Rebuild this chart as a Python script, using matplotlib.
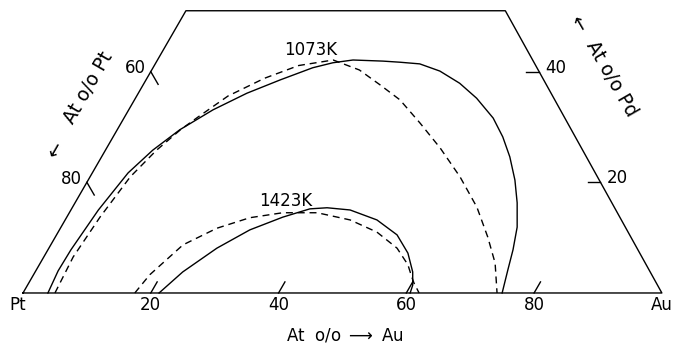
import matplotlib
matplotlib.use("Agg")
import matplotlib.pyplot as plt
import numpy as np

# ===============================
# Dados (composicoes em at %: Au, Pd)
# ===============================
au_1073_solid = [3.9, 3.5, 3.6, 4.3, 5.6, 7.4, 9.8, 13.2, 17.0, 21.0, 25.0, 27.7,
                 30.6, 35.4, 38.15, 41.4, 45.2, 49.4, 53.4, 57.8, 61.0, 63.9,
                 66.8, 69.2, 71.4, 72.8, 73.8, 75.0]
pd_1073_solid = [0.0, 4.0, 7.8, 15.0, 21.7, 25.8, 29.5, 33.1, 36.1, 38.5, 40.7, 41.6,
                 42.1, 41.9, 41.7, 41.4, 40.1, 37.9, 35.2, 31.6, 28.2, 24.6,
                 20.4, 16.3, 11.9, 7.8, 4.2, 0.0]

au_1073_dash = [5.0, 4.6, 5.2, 6.3, 8.0, 9.9, 11.5, 14.3, 18.4, 22.6, 27.5,
                32.5, 37.1, 41.55, 46.8, 52.2, 57.9, 63.3, 67.7, 71.2, 74.2]
pd_1073_dash = [0.0, 6.5, 13.7, 21.0, 25.8, 29.5, 31.8, 35.6, 38.8, 41.1, 42.1,
                40.3, 37.6, 34.9, 30.7, 26.2, 21.0, 15.5, 10.1, 5.4, 0.0]

au_1423_solid = [21.3, 23.1, 26.3, 29.8, 33.8, 37.3, 39.9, 43.7, 48.8, 53.3, 56.65,
                 59.1, 60.3, 60.6]
pd_1423_solid = [0.0, 3.8, 8.1, 11.4, 13.7, 15.2, 15.4, 15.0, 13.2, 10.5, 7.2,
                 3.8, 1.4, 0.0]

au_1423_dash = [17.5, 18.2, 20.7, 24.5, 28.7, 33.4, 38.8, 44.6, 49.9, 54.5, 57.7,
                59.4, 60.3, 62.0]
pd_1423_dash = [0.0, 3.3, 8.7, 11.7, 13.6, 14.5, 14.5, 13.2, 11.0, 8.1, 5.1,
                2.9, 1.8, 0.0]

ticks_au = [20, 40, 60, 80]
ticks_pt = [60, 80]
ticks_pd = [20, 40]
pd_topo = 51.0
au_topo_dir = 50.0


def tern(au, pd):
    au = np.asarray(au, dtype=float)
    pd = np.asarray(pd, dtype=float)
    return au + pd / 2.0, pd * np.sqrt(3) / 2.0


def px(x, y):
    # posicao em pixels da figura -> coordenadas do grafico
    return (x - 23) / 6.39, (293 - y) / 6.39


def borda_dir(pd):
    # ponto da borda Au-Pd (levemente inclinada no original)
    return 100 - (100 - au_topo_dir) * pd / pd_topo


# ===============================
# Figura
# ===============================
fig = plt.figure(figsize=(6.74, 3.48), dpi=100)
ax = fig.add_axes([0, 0, 1, 1])
ax.set_xlim(-3.6, 101.9)
ax.set_ylim(-8.61, 45.85)
ax.axis("off")

cor = "black"
lw = 1.0
fs = 12

# Contorno do triangulo truncado
fa, fp = tern([0, 0, au_topo_dir, 100, 0], [0, pd_topo, pd_topo, 0, 0])
ax.plot(fa, fp, color=cor, lw=lw)

# Ticks
for t in ticks_au:
    x, y = tern([t, t], [0, 2.0])
    ax.plot(x, y, color=cor, lw=lw)
    ax.text(tern(t, 0)[0], -1.9, str(t), ha="center", va="center", fontsize=fs)
for t in ticks_pt:
    p = 100 - t
    x, y = tern([0, 2.3], [p, p - 2.3])
    ax.plot(x, y, color=cor, lw=lw)
    xl, yl = tern(0, p)
    ax.text(xl - 2.4, yl + 0.55, str(t), ha="center", va="center", fontsize=fs)
for t in ticks_pd:
    a = borda_dir(t)
    x, y = tern([a, a - 2.0], [t, t])
    ax.plot(x, y, color=cor, lw=lw)
    xl, yl = tern(a, t)
    ax.text(xl + 2.6, yl + 0.6, str(t), ha="center", va="center", fontsize=fs)

# Curvas
ls_dash = (0, (5, 3.5))
x, y = tern(au_1073_solid, pd_1073_solid)
ax.plot(x, y, color=cor, lw=lw)
x, y = tern(au_1073_dash, pd_1073_dash)
ax.plot(x, y, color=cor, lw=lw, linestyle=ls_dash)
x, y = tern(au_1423_solid, pd_1423_solid)
ax.plot(x, y, color=cor, lw=lw)
x, y = tern(au_1423_dash, pd_1423_dash)
ax.plot(x, y, color=cor, lw=lw, linestyle=ls_dash)

# Rotulos
ax.text(*px(311, 50), "1073K", ha="center", va="center", fontsize=fs)
ax.text(*px(286, 201), "1423K", ha="center", va="center", fontsize=fs)
ax.text(*px(18, 305), "Pt", ha="center", va="center", fontsize=fs)
ax.text(*px(662, 305), "Au", ha="center", va="center", fontsize=fs)

ax.text(*px(345, 336), r"At  o/o $\longrightarrow$ Au", ha="center", va="center",
        fontsize=fs)
ax.text(*px(56, 150), "\u2190", ha="center", va="center", rotation=60, fontsize=13.5)
ax.text(*px(88, 88), "At o/o Pt", ha="center", va="center", rotation=60, fontsize=13.5)
ax.text(*px(577, 24), "\u2190", ha="center", va="center", rotation=-60, fontsize=13.5)
ax.text(*px(612, 79), "At o/o Pd", ha="center", va="center", rotation=-60, fontsize=13.5)

plt.savefig("out.png", dpi=100)
plt.close()
